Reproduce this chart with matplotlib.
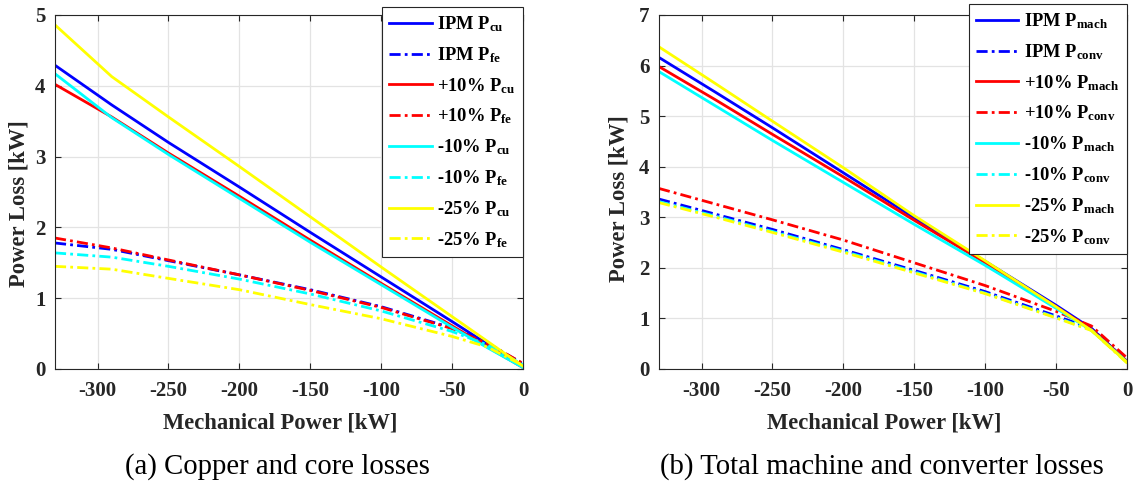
import matplotlib
matplotlib.use("Agg")
import matplotlib.pyplot as plt

plt.rcParams['font.family'] = ['Liberation Serif', 'DejaVu Serif']
plt.rcParams['mathtext.fontset'] = 'custom'
plt.rcParams['mathtext.rm'] = 'Liberation Serif:bold'
plt.rcParams['mathtext.it'] = 'Liberation Serif:bold'
plt.rcParams['mathtext.bf'] = 'Liberation Serif:bold'

# ---------------- data ----------------
mech_power = [-330, -290, -250, -200, -150, -100, -50, -25, 0]

# (a) copper and core losses [kW]
ipm_cu      = [4.29, 3.73, 3.20, 2.57, 1.93, 1.30, 0.67, 0.35, 0.03]
ipm_fe      = [1.78, 1.69, 1.53, 1.33, 1.12, 0.88, 0.58, 0.37, 0.07]
plus10_cu   = [4.02, 3.56, 3.05, 2.44, 1.82, 1.21, 0.61, 0.31, 0.02]
plus10_fe   = [1.85, 1.71, 1.54, 1.33, 1.11, 0.87, 0.57, 0.36, 0.08]
minus10_cu  = [4.17, 3.55, 3.03, 2.41, 1.79, 1.19, 0.59, 0.30, 0.02]
minus10_fe  = [1.64, 1.58, 1.45, 1.27, 1.06, 0.82, 0.53, 0.34, 0.06]
minus25_cu  = [4.86, 4.13, 3.56, 2.86, 2.15, 1.44, 0.74, 0.39, 0.04]
minus25_fe  = [1.45, 1.41, 1.28, 1.12, 0.91, 0.71, 0.46, 0.31, 0.05]

# (b) total machine and converter losses [kW]
ipm_mach     = [6.16, 5.47, 4.77, 3.88, 2.99, 2.13, 1.26, 0.80, 0.15]
ipm_conv     = [3.36, 3.06, 2.76, 2.36, 1.95, 1.53, 1.05, 0.80, 0.15]
plus10_mach  = [5.98, 5.32, 4.64, 3.80, 2.94, 2.10, 1.23, 0.78, 0.15]
plus10_conv  = [3.57, 3.26, 2.95, 2.55, 2.10, 1.65, 1.14, 0.85, 0.22]
minus10_mach = [5.88, 5.20, 4.52, 3.69, 2.86, 2.05, 1.20, 0.76, 0.14]
minus10_conv = [3.31, 3.02, 2.72, 2.33, 1.92, 1.50, 1.02, 0.77, 0.13]
minus25_mach = [6.37, 5.64, 4.90, 3.98, 3.03, 2.14, 1.23, 0.76, 0.13]
minus25_conv = [3.29, 3.00, 2.70, 2.31, 1.90, 1.49, 1.01, 0.76, 0.12]

x_ticks = [-300, -250, -200, -150, -100, -50, 0]
x_ticklabels = ['-300', '-250', '-200', '-150', '-100', '-50', '0']
case_names = ['IPM', '+10%', '-10%', '-25%']
case_colors = ['#0000ff', '#ff0000', '#00ffff', '#ffff00']

left_series = [(ipm_cu, ipm_fe), (plus10_cu, plus10_fe),
               (minus10_cu, minus10_fe), (minus25_cu, minus25_fe)]
right_series = [(ipm_mach, ipm_conv), (plus10_mach, plus10_conv),
                (minus10_mach, minus10_conv), (minus25_mach, minus25_conv)]

W, H = 1134, 487
fig = plt.figure(figsize=(W / 100, H / 100), dpi=100)

dashdot = (0, (4.0, 1.5, 1.0, 1.5))


def setup_axes(ax, ymax, yticks):
    ax.set_xlim(-330, 0)
    ax.set_ylim(0, ymax)
    ax.set_xticks(x_ticks)
    ax.set_xticklabels(x_ticklabels)
    ax.set_yticks(yticks)
    ax.set_yticklabels([str(t) for t in yticks])
    ax.grid(True, color='#e3e3e3', linewidth=0.9)
    ax.set_axisbelow(True)
    ax.tick_params(direction='in', length=4, width=0.8, top=True, right=True,
                   labelsize=15, colors='#262626')
    ax.tick_params(axis='x', pad=9)
    ax.tick_params(axis='y', pad=7)
    for lab in ax.get_xticklabels() + ax.get_yticklabels():
        lab.set_fontweight('bold')
    for s in ax.spines.values():
        s.set_color('#262626')
        s.set_linewidth(0.8)
    ax.set_xlabel('Mechanical Power [kW]', fontsize=16.3, fontweight='bold',
                  color='#262626')
    ax.set_ylabel('Power Loss [kW]', fontsize=16.3, fontweight='bold',
                  color='#262626')


axL = fig.add_axes([55 / W, 1 - 369 / H, 468 / W, 354 / H])
axR = fig.add_axes([659 / W, 1 - 369 / H, 468 / W, 354 / H])

for name, col, (sol, dd) in zip(case_names, case_colors, left_series):
    axL.plot(mech_power, sol, color=col, lw=2.0, ls='-',
             label=name + r' $\mathregular{P_{cu}}$')
    axL.plot(mech_power, dd, color=col, lw=2.0, ls=dashdot,
             label=name + r' $\mathregular{P_{fe}}$')

for name, col, (sol, dd) in zip(case_names, case_colors, right_series):
    axR.plot(mech_power, sol, color=col, lw=2.0, ls='-',
             label=name + r' $\mathregular{P_{mach}}$')
    axR.plot(mech_power, dd, color=col, lw=2.0, ls=dashdot,
             label=name + r' $\mathregular{P_{conv}}$')

setup_axes(axL, 5, [0, 1, 2, 3, 4, 5])
setup_axes(axR, 7, [0, 1, 2, 3, 4, 5, 6, 7])

for ax in (axL, axR):
    ax.xaxis.set_label_coords((280 - 55) / 468, -(413 - 369) / 354)
axL.yaxis.set_label_coords((30 - 55) / 468, (369 - 204) / 354)
axR.yaxis.set_label_coords((629 - 659) / 468, (369 - 199) / 354)

leg_kw = dict(loc='upper right', bbox_transform=fig.transFigure,
              borderaxespad=0, handlelength=2.3, handletextpad=0.3,
              labelspacing=0.6, borderpad=0.4, fancybox=False,
              edgecolor='#262626', framealpha=1,
              prop={'weight': 'bold', 'size': 13.3})
legL = axL.legend(bbox_to_anchor=(523 / W, 1 - 7 / H), **leg_kw)
legR = axR.legend(bbox_to_anchor=(1127 / W, 1 - 4 / H), **leg_kw)
for leg in (legL, legR):
    leg.get_frame().set_linewidth(0.8)

fig.text(277 / W, 1 - 467 / H, '(a) Copper and core losses', ha='center',
         va='center', fontsize=20.7)
fig.text(882 / W, 1 - 467 / H, '(b) Total machine and converter losses',
         ha='center', va='center', fontsize=20.7)

fig.savefig('out.png', dpi=100)
